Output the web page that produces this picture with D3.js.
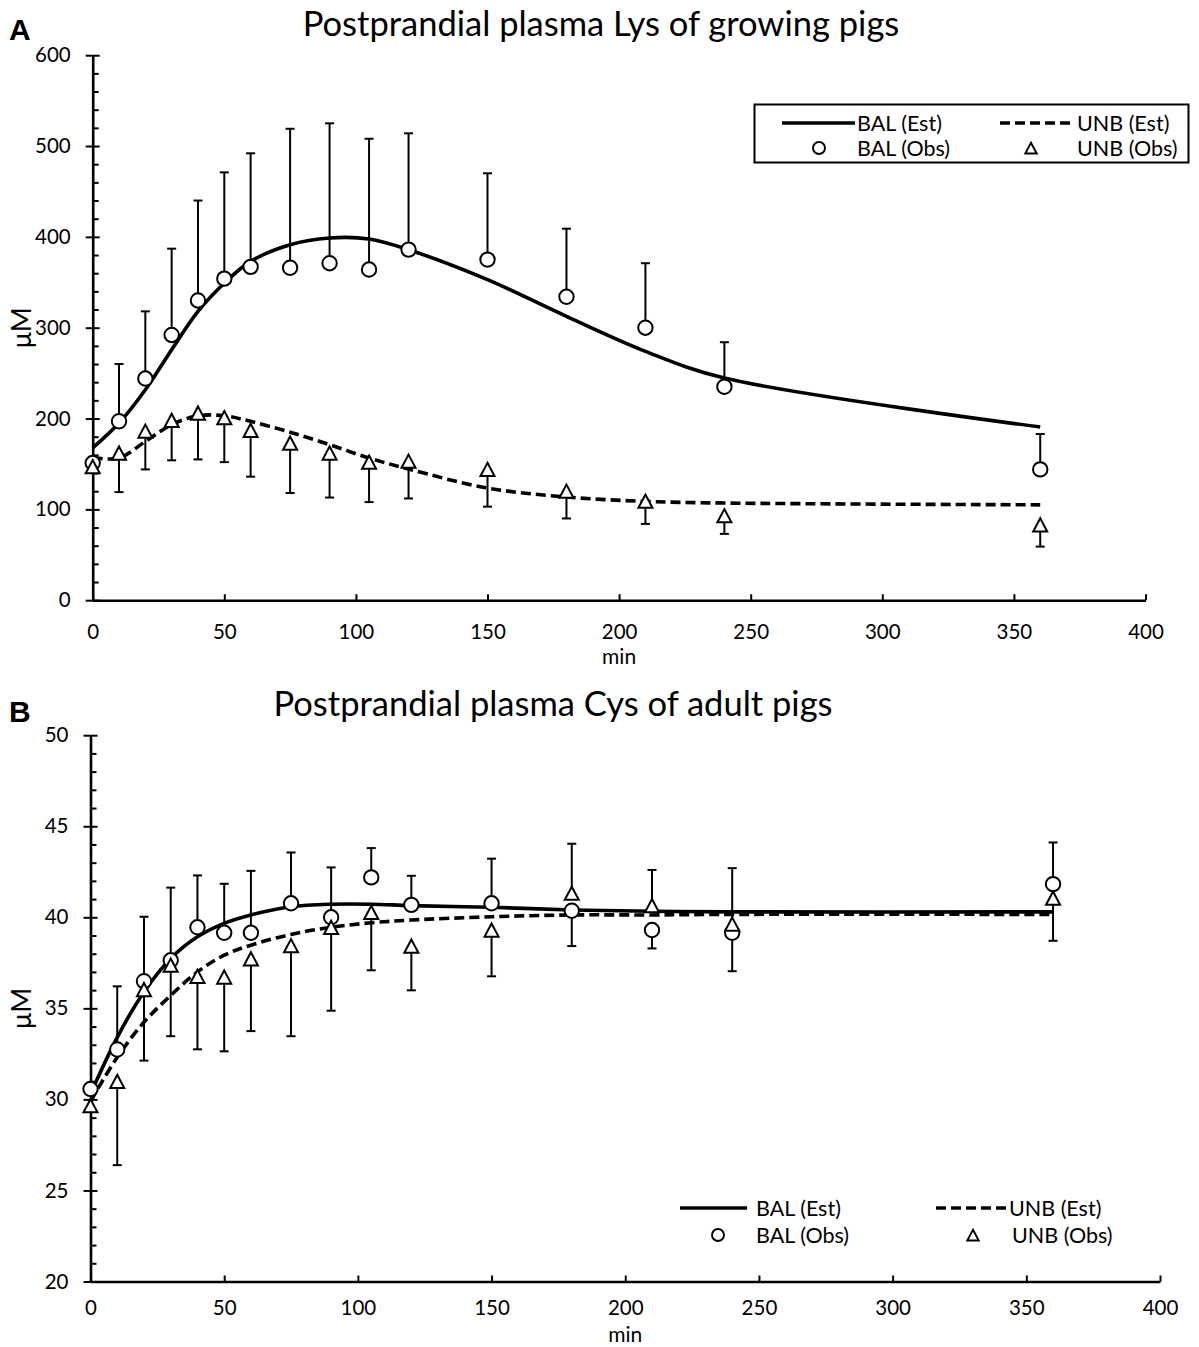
<!DOCTYPE html>
<html><head><meta charset="utf-8">
<script src="https://cdn.jsdelivr.net/npm/d3@7"></script>
<style>
html,body{margin:0;padding:0;background:#fff;}
svg text{font-family:Lato,"Open Sans",sans-serif;fill:#000;}
</style></head>
<body><svg id="c" width="1199" height="1347"></svg>
<script>
// ---------- data ----------
const timesObs = [0,10,20,30,40,50,60,75,90,105,120,150,180,210,240,360];
const timesEst = [0,10,20,30,40,50,60,75,90,105,120,150,180,210,240,360];

// Panel A: Lys, growing pigs (µM)
const lysBalObs   = [151,197,244,292,330,354,367,366,371,364,386,375,334,300,235,144];
const lysBalErrHi = [null,260,318,387,440,471,492,519,525,508,514,470,409,371,284,183];
const lysUnbObs   = [147,162,186,198,206,201,187,173,162,152,153,144,120,109,93,83];
const lysUnbErrLo = [null,119,144,154,155,152,136,118,113,108,112,103,90,84,73,59];
const lysBalEst   = [167.6,195,231.7,275.8,318,349,373,391.4,398.8,397.7,385.9,352.9,312.5,274,244.6,190.7];
const lysUnbEst   = [157,156.5,174.8,193.2,203,203,196.9,185,171.2,156.5,144.4,123.5,113.6,108.8,107,105];

// Panel B: Cys, adult pigs (µM)
const cysBalObs   = [30.57,32.74,36.49,37.64,39.45,39.15,39.15,40.77,40.0,42.19,40.68,40.77,40.36,39.3,39.15,41.82];
const cysBalErrHi = [null,36.21,40.03,41.63,42.3,41.84,42.55,43.56,42.74,43.8,42.28,43.22,null,null,null,44.11];
const cysBalErrLo = [null,null,null,null,null,null,null,null,null,null,null,null,38.42,38.29,37.04,null];
const cysUnbObs   = [29.65,30.99,36.03,37.37,36.76,36.72,37.72,38.44,39.45,40.27,38.42,39.3,41.32,40.64,39.63,41.05];
const cysUnbErrHi = [null,null,null,null,null,null,null,null,null,null,null,null,44.04,42.6,42.7,null];
const cysUnbErrLo = [null,26.39,32.13,33.47,32.75,32.64,33.75,33.47,34.87,37.09,35.99,36.76,null,null,null,38.71];
const cysBalEst   = [30.3,33.41,35.9,37.74,38.93,39.67,40.13,40.58,40.72,40.72,40.64,40.55,40.4,40.33,40.3,40.3];
const cysUnbEst   = [29.9,32.31,34.24,35.71,37.0,37.92,38.47,39.06,39.45,39.7,39.85,40.03,40.13,40.13,40.16,40.16];

const xTicks = [0,50,100,150,200,250,300,350,400];
const lysYTicks = [0,100,200,300,400,500,600];
const cysYTicks = [20,25,30,35,40,45,50];
const legendLabels = ["BAL (Est)","UNB (Est)","BAL (Obs)","UNB (Obs)"];
const titles = ["Postprandial plasma Lys of growing pigs","Postprandial plasma Cys of adult pigs"];
const panelLetters = ["A","B"];

// ---------- drawing ----------
const svg = d3.select("#c");
const triPath = s => `M0,${-7.2*s} L${7*s},${6*s} L${-7*s},${6*s} Z`;

function panel(cfg){
  const g = svg.append("g");
  const x = d3.scaleLinear().domain([0,400]).range([cfg.x0,cfg.x1]);
  const y = d3.scaleLinear().domain(cfg.ydom).range([cfg.yb,cfg.yt]);

  // title & letter
  g.append("text").attr("x",cfg.titleX).attr("y",cfg.titleY).attr("text-anchor","middle")
    .style("font-size","34.5px").text(cfg.title);
  g.append("text").attr("x",9).attr("y",cfg.letterY)
    .style("font-family","'Liberation Sans',Arial,sans-serif").style("font-weight","bold").style("font-size","30px").text(cfg.letter);

  // axes
  const major = cfg.yticks;
  const minor = d3.range(cfg.ydom[0],cfg.ydom[1]+1e-9,cfg.minorStep).filter(v=>!major.some(m=>Math.abs(m-v)<1e-9));
  const ax = g.append("g").attr("transform",`translate(${cfg.x0},0)`)
    .call(d3.axisLeft(y).tickValues(major).tickSizeInner(7).tickSizeOuter(0).tickPadding(15));
  ax.selectAll("text").style("font-size","20.5px").style("font-family","Lato,sans-serif");
  g.append("g").attr("transform",`translate(${cfg.x0},0)`)
    .call(d3.axisRight(y).tickValues(major).tickSizeInner(7).tickSizeOuter(0).tickFormat(""))
    .call(s=>s.select(".domain").remove());
  g.append("g").attr("transform",`translate(${cfg.x0},0)`)
    .call(d3.axisRight(y).tickValues(minor).tickSizeInner(6).tickSizeOuter(0).tickFormat(""))
    .call(s=>s.select(".domain").remove());
  const bx = g.append("g").attr("transform",`translate(0,${cfg.yb})`)
    .call(d3.axisBottom(x).tickValues(xTicks).tickSizeInner(-6).tickSizeOuter(0).tickPadding(cfg.xPad));
  bx.selectAll("text").style("font-size","20.5px").style("font-family","Lato,sans-serif");
  g.selectAll(".domain").attr("stroke-width",2.6);
  g.selectAll(".tick line").attr("stroke-width",2);

  g.append("text").attr("x",(cfg.x0+cfg.x1)/2).attr("y",cfg.minY).attr("text-anchor","middle")
    .style("font-size","21px").text("min");
  g.append("text").attr("transform",`translate(31,${(cfg.yt+cfg.yb)/2}) rotate(-90)`).attr("text-anchor","middle")
    .style("font-size","27px").text("μM");

  // est lines
  const line = d3.line().x((d,i)=>x(timesEst[i])).y(d=>y(d)).curve(d3.curveCatmullRom.alpha(0.5));
  g.append("path").attr("d",line(cfg.balEst)).attr("fill","none").attr("stroke","#000").attr("stroke-width",3.6);
  g.append("path").attr("d",line(cfg.unbEst)).attr("fill","none").attr("stroke","#000").attr("stroke-width",3.6)
    .attr("stroke-dasharray","10,5");

  // error bars
  function errs(vals, ends){
    ends.forEach(arr=>{
      if(!arr) return;
      arr.forEach((e,i)=>{
        if(e==null) return;
        const cx = x(timesObs[i]);
        g.append("line").attr("x1",cx).attr("x2",cx).attr("y1",y(vals[i])).attr("y2",y(e))
          .attr("stroke","#000").attr("stroke-width",2);
        g.append("line").attr("x1",cx-4.5).attr("x2",cx+4.5).attr("y1",y(e)).attr("y2",y(e))
          .attr("stroke","#000").attr("stroke-width",2);
      });
    });
  }
  errs(cfg.balObs,[cfg.balHi,cfg.balLo]);
  errs(cfg.unbObs,[cfg.unbHi,cfg.unbLo]);

  // markers
  g.selectAll(null).data(cfg.balObs).enter().append("circle")
    .attr("cx",(d,i)=>x(timesObs[i])).attr("cy",d=>y(d)).attr("r",7.2)
    .attr("fill","#fff").attr("stroke","#000").attr("stroke-width",2);
  g.selectAll(null).data(cfg.unbObs).enter().append("path")
    .attr("transform",(d,i)=>`translate(${x(timesObs[i])},${y(d)+0.6})`).attr("d",triPath(1))
    .attr("fill","#fff").attr("stroke","#000").attr("stroke-width",2);

  // legend
  const L = cfg.legend;
  if(L.box){
    g.append("rect").attr("x",L.box[0]).attr("y",L.box[1]).attr("width",L.box[2]).attr("height",L.box[3])
      .attr("fill","#fff").attr("stroke","#000").attr("stroke-width",2);
  }
  g.append("line").attr("x1",L.l1[0]).attr("x2",L.l1[1]).attr("y1",L.r1).attr("y2",L.r1)
    .attr("stroke","#000").attr("stroke-width",3.6);
  g.append("line").attr("x1",L.l2[0]).attr("x2",L.l2[1]).attr("y1",L.r1).attr("y2",L.r1)
    .attr("stroke","#000").attr("stroke-width",3.6).attr("stroke-dasharray","10,5");
  g.append("circle").attr("cx",L.m1).attr("cy",L.r2).attr("r",6).attr("fill","#fff").attr("stroke","#000").attr("stroke-width",1.9);
  g.append("path").attr("transform",`translate(${L.m2},${L.r2+0.6})`).attr("d",triPath(0.82))
    .attr("fill","#fff").attr("stroke","#000").attr("stroke-width",1.9);
  const lt = [[L.t1,L.r1,0],[L.t2,L.r1,1],[L.t1,L.r2,2],[L.t2b,L.r2,3]];
  lt.forEach(([tx,ty,k])=>{
    g.append("text").attr("x",tx).attr("y",ty).attr("dy","0.35em").style("font-size","21.5px").text(legendLabels[k]);
  });
}

panel({
  x0:92.7,x1:1145.5,yb:600.2,yt:55.2,ydom:[0,600],yticks:lysYTicks,minorStep:20,xPad:24,minY:664,
  title:titles[0],titleX:601,titleY:36,letter:panelLetters[0],letterY:40,
  balObs:lysBalObs,balHi:lysBalErrHi,balLo:null,unbObs:lysUnbObs,unbHi:null,unbLo:lysUnbErrLo,
  balEst:lysBalEst,unbEst:lysUnbEst,
  legend:{box:[754.5,104.5,434,58],r1:123,r2:148,l1:[782,855],l2:[1000,1071],m1:819,m2:1031,t1:857,t2:1077,t2b:1077}
});
panel({
  x0:90.5,x1:1160,yb:1281.5,yt:735.2,ydom:[20,50],yticks:cysYTicks,minorStep:1,xPad:19,minY:1342,
  title:titles[1],titleX:553,titleY:716,letter:panelLetters[1],letterY:722,
  balObs:cysBalObs,balHi:cysBalErrHi,balLo:cysBalErrLo,unbObs:cysUnbObs,unbHi:cysUnbErrHi,unbLo:cysUnbErrLo,
  balEst:cysBalEst,unbEst:cysUnbEst,
  legend:{box:null,r1:1208,r2:1235,l1:[680,747],l2:[936,1007],m1:718,m2:973,t1:756,t2:1009,t2b:1012}
});
</script></body></html>
